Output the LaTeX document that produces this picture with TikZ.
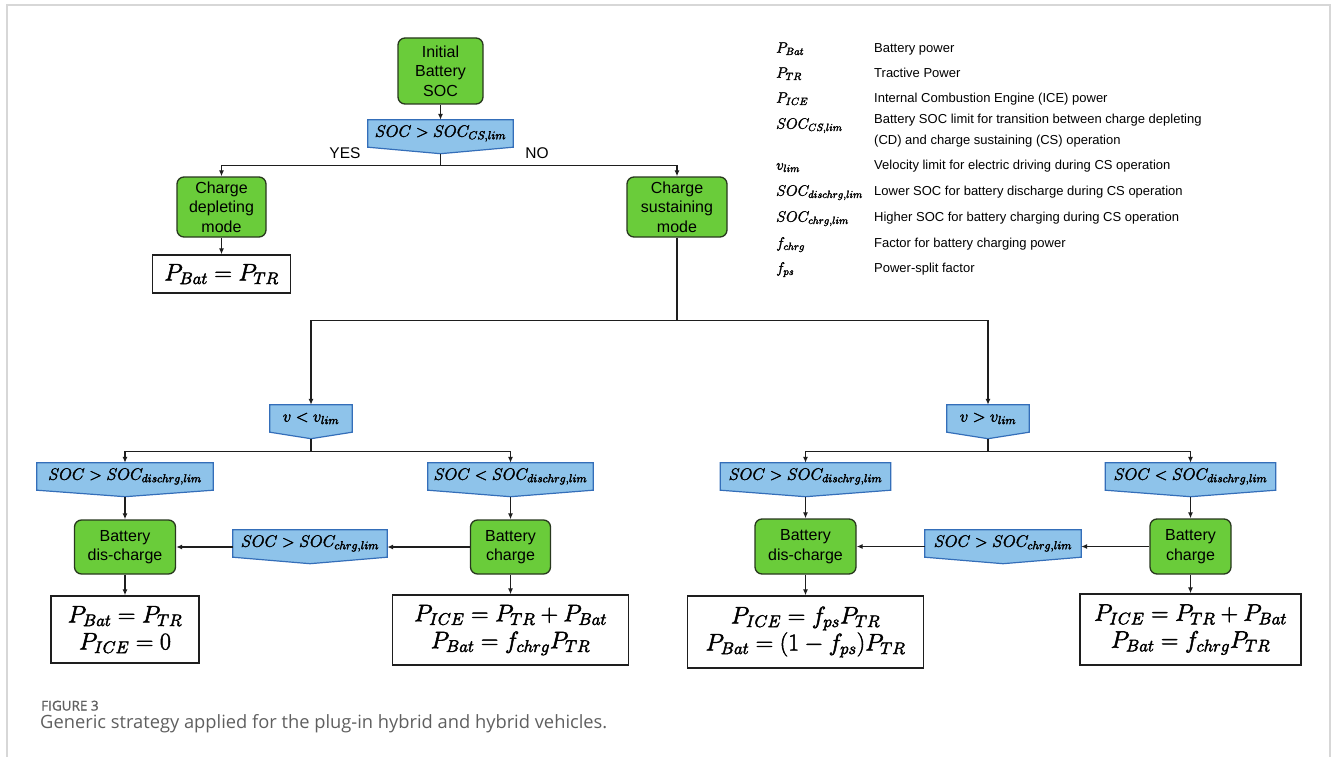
\documentclass[tikz,border=0pt]{standalone}
\usepackage{fix-cm}
\usepackage[no-math]{fontspec}
\setmainfont{Liberation Sans}
\newfontfamily\capfont{Open Sans}
\newfontfamily\capfontb[FakeBold=1.3]{Open Sans}
\usetikzlibrary{arrows.meta,calc}
\definecolor{gfill}{RGB}{106,204,58}
\definecolor{gline}{RGB}{40,56,30}
\definecolor{bfill}{RGB}{142,195,234}
\definecolor{bline}{RGB}{52,110,185}
\definecolor{framec}{RGB}{215,215,215}
\definecolor{ink}{RGB}{30,30,30}
\definecolor{capgray}{RGB}{95,95,95}
\newcommand\heavy[2]{\special{pdf:literal direct 2 Tr #1 w}#2\special{pdf:literal direct 0 Tr}}
\pgfdeclarelayer{bg}
\pgfsetlayers{bg,main}
\tikzset{
  greenbox/.style={draw=gline, fill=gfill, line width=1.3pt, rounded corners=7pt, align=center, inner sep=0pt, font=\fontsize{16}{19.5}\selectfont},
  resbox/.style={draw=ink, fill=white, line width=1.3pt, align=center, inner sep=0pt, font=\fontsize{24}{27}\selectfont},
  dectext/.style={inner sep=0pt, minimum height=27pt, font=\fontsize{16.5}{18}\selectfont},
  decshape/.style={draw=bline, fill=bfill, line width=1.2pt},
  conn/.style={draw=ink, line width=1.2pt},
  arr/.style={conn, -{Latex[length=6pt,width=5pt]}},
  legsym/.style={anchor=base west, inner sep=0pt, font=\fontsize{15}{16}\selectfont},
  legtxt/.style={anchor=base west, inner sep=0pt, align=left, font=\fontsize{13}{20.5}\selectfont},
  yesno/.style={inner sep=0pt, font=\fontsize{15.5}{18}\selectfont},
  capstyle/.style={anchor=base west, inner sep=0pt, text=capgray},
}
\newcommand\decnode[5]{%
  \node[dectext, minimum width=#4pt] (#1) at (#2,#3) {\heavy{0.35}{#5}};
  \begin{pgfonlayer}{bg}
    \draw[decshape] (#1.north west) -- (#1.north east) -- (#1.south east)
      -- ([yshift=-6.5pt]#1.south) coordinate (#1-tip) -- (#1.south west) -- cycle;
  \end{pgfonlayer}
}
\newcommand\rmath[1]{\heavy{0.5}{$#1$}}
\newcommand\lmath[1]{\heavy{0.3}{$#1$}}
\begin{document}
\begin{tikzpicture}[x=1pt,y=-1pt]
\useasboundingbox (0,0) rectangle (1333,757);
% frame
\draw[framec, line width=2pt] (7,757) -- (7,5) -- (1330,5) -- (1330,757);

% top part
\node[greenbox, minimum width=85pt, minimum height=66pt] (init) at (440.5,71) {Initial\\Battery\\SOC};
\decnode{d0}{440.5}{133.5}{145}{$SOC>SOC_{CS,lim}$}
\node[yesno] (yes) at (345,153) {YES};
\node[yesno] (no) at (537,153) {NO};
\node[greenbox, minimum width=89pt, minimum height=60pt] (cd) at (221.5,207) {Charge\\depleting\\mode};
\node[greenbox, minimum width=100pt, minimum height=60pt] (cs) at (677,207) {Charge\\sustaining\\mode};
\node[resbox, minimum width=138pt, minimum height=38pt] (r0) at (221.5,274) {\rmath{P_{Bat}=P_{TR}}};

\draw[arr] (init.south) -- (d0.north);
\draw[conn] (d0-tip) -- ++(0,12) coordinate (j0);
\draw[arr] (j0) -| (cd.north);
\draw[arr] (j0) -| (cs.north);
\draw[arr] (cd.south) -- (r0.north);

% speed decisions
\decnode{vl}{311}{418.5}{82}{$v<v_{lim}$}
\decnode{vg}{988}{418.5}{82}{$v>v_{lim}$}
\draw[conn] (cs.south) -- ++(0,83) coordinate (j1);
\draw[arr] (j1) -| (vl.north);
\draw[arr] (j1) -| (vg.north);

% left branch
\decnode{a1}{125}{476.5}{176}{$SOC>SOC_{dischrg,lim}$}
\decnode{a2}{510.5}{476.5}{165}{$SOC<SOC_{dischrg,lim}$}
\node[greenbox, minimum width=101pt, minimum height=54pt] (b1) at (125,547) {Battery\\dis-charge};
\node[greenbox, minimum width=80pt, minimum height=54pt] (b2) at (510.5,547) {Battery\\charge};
\decnode{c1}{310}{543.5}{154}{$SOC>SOC_{chrg,lim}$}
\node[resbox, minimum width=148pt, minimum height=67pt] (r1) at (125,629.5) {\rmath{P_{Bat}=P_{TR}}\\\rmath{P_{ICE}=0}};
\node[resbox, minimum width=236pt, minimum height=70pt] (r2) at (510.5,630) {\rmath{P_{ICE}=P_{TR}+P_{Bat}}\\\rmath{P_{Bat}=f_{chrg}P_{TR}}};

\draw[conn] (vl-tip) -- ++(0,13) coordinate (j2);
\draw[arr] (j2) -| (a1.north);
\draw[arr] (j2) -| (a2.north);
\draw[arr] (a1-tip) -- (b1.north);
\draw[arr] (a2-tip) -- (b2.north);
\draw[arr] (b2.west) -- (c1.east |- b2.west);
\draw[arr] (c1.west |- b2.west) -- (b1.east);
\draw[arr] (b1.south) -- (r1.north);
\draw[arr] (b2.south) -- (r2.north);

% right branch
\decnode{e1}{805.5}{476.5}{170}{$SOC>SOC_{dischrg,lim}$}
\decnode{e2}{1190.5}{476.5}{170}{$SOC<SOC_{dischrg,lim}$}
\node[greenbox, minimum width=101pt, minimum height=55pt] (f1) at (805.5,546.5) {Battery\\dis-charge};
\node[greenbox, minimum width=81pt, minimum height=55pt] (f2) at (1190.5,546.5) {Battery\\charge};
\decnode{g1}{1003}{543.5}{156}{$SOC>SOC_{chrg,lim}$}
\node[resbox, minimum width=236pt, minimum height=72pt] (s1) at (805.5,632) {\rmath{P_{ICE}=f_{ps}P_{TR}}\\\rmath{P_{Bat}=(1-f_{ps})P_{TR}}};
\node[resbox, minimum width=221pt, minimum height=71pt] (s2) at (1190.5,629.5) {\rmath{P_{ICE}=P_{TR}+P_{Bat}}\\\rmath{P_{Bat}=f_{chrg}P_{TR}}};

\draw[conn] (vg-tip) -- ++(0,13) coordinate (j3);
\draw[arr] (j3) -| (e1.north);
\draw[arr] (j3) -| (e2.north);
\draw[arr] (e1-tip) -- (f1.north);
\draw[arr] (e2-tip) -- (f2.north);
\draw[arr] (f2.west) -- (g1.east |- f2.west);
\draw[arr] (g1.west |- f2.west) -- (f1.east);
\draw[arr] (f1.south) -- (s1.north);
\draw[arr] (f2.south) -- (s2.north);

% legend
\node[legsym] (l1) at (776,52.7) {\lmath{P_{Bat}}};
\node[legtxt] (t1) at (874,52.7) {Battery power};
\node[legsym] (l2) at (776,77.7) {\lmath{P_{TR}}};
\node[legtxt] (t2) at (874,77.7) {Tractive Power};
\node[legsym] (l3) at (776,102.7) {\lmath{P_{ICE}}};
\node[legtxt] (t3) at (874,102.7) {Internal Combustion Engine (ICE) power};
\node[legsym] (l4) at (776,128.7) {\lmath{SOC_{CS,lim}}};
\node[legtxt] (t4) at (874,144.2) {Battery SOC limit for transition between charge depleting\\(CD) and charge sustaining (CS) operation};
\node[legsym] (l5) at (776,169.7) {\lmath{v_{lim}}};
\node[legtxt] (t5) at (874,169.7) {Velocity limit for electric driving during CS operation};
\node[legsym] (l6) at (776,195.7) {\lmath{SOC_{dischrg,lim}}};
\node[legtxt] (t6) at (874,195.7) {Lower SOC for battery discharge during CS operation};
\node[legsym] (l7) at (776,221.7) {\lmath{SOC_{chrg,lim}}};
\node[legtxt] (t7) at (874,221.7) {Higher SOC for battery charging during CS operation};
\node[legsym] (l8) at (776,247.7) {\lmath{f_{chrg}}};
\node[legtxt] (t8) at (874,247.7) {Factor for battery charging power};
\node[legsym] (l9) at (776,272.7) {\lmath{f_{ps}}};
\node[legtxt] (t9) at (874,272.7) {Power-split factor};

% caption
\node[capstyle, font=\capfontb\fontsize{13.5}{16}\selectfont] (fig) at (41,710.5) {FIGURE 3};
\node[capstyle, font=\capfont\fontsize{18.3}{20}\selectfont] (cap) at (40,728) {Generic strategy applied for the plug-in hybrid and hybrid vehicles.};
\end{tikzpicture}
\end{document}
